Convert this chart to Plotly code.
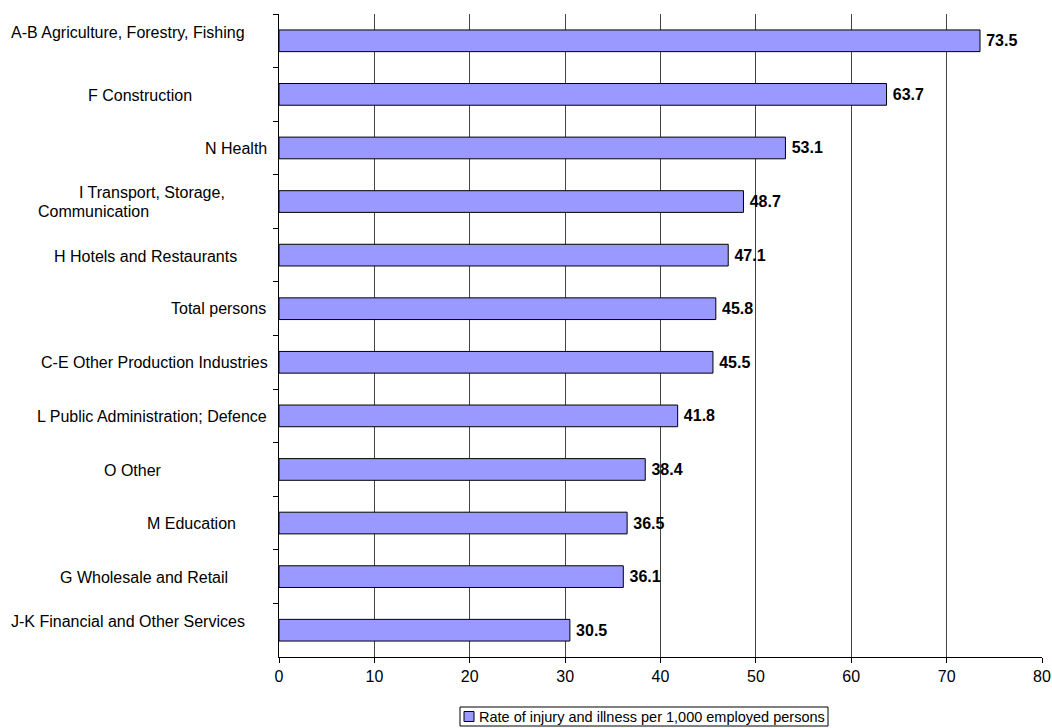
import plotly.graph_objects as go

# Industry sectors, top to bottom
categories = [
    "A-B Agriculture, Forestry, Fishing",
    "F Construction",
    "N Health",
    "I Transport, Storage, Communication",
    "H Hotels and Restaurants",
    "Total persons",
    "C-E Other Production Industries",
    "L Public Administration; Defence",
    "O Other",
    "M Education",
    "G Wholesale and Retail",
    "J-K Financial and Other Services",
]
rates = [73.5, 63.7, 53.1, 48.7, 47.1, 45.8, 45.5, 41.8, 38.4, 36.5, 36.1, 30.5]
x_ticks = [0, 10, 20, 30, 40, 50, 60, 70, 80]
series_name = "Rate of injury and illness per 1,000 employed persons"

# Category label layout: lines of text, horizontal centre (px), vertical shift (px)
label_lines = [
    [("A-B Agriculture, Forestry, Fishing", 128, 8)],
    [("F Construction", 140, -1)],
    [("N Health", 235.5, -1)],
    [("I Transport, Storage,", 152, 9), ("Communication", 93, -10)],
    [("H Hotels and Restaurants", 145, -1)],
    [("Total persons", 218.5, 0)],
    [("C-E Other Production Industries", 154, 0)],
    [("L Public Administration; Defence", 152, -1)],
    [("O Other", 133, -1)],
    [("M Education", 191.5, 0)],
    [("G Wholesale and Retail", 143.5, -1)],
    [("J-K Financial and Other Services", 128, 9)],
]

W, H = 1052, 728
ML, MR, MT, MB = 279, 10, 14, 71
plot_w = W - ML - MR
plot_h = H - MT - MB
FONT = "Liberation Sans, Arial, sans-serif"
BAR_COLOR = "#9999FF"


def px_x(px):
    return (px - ML) / plot_w


def px_y(py):
    return (H - MB - py) / plot_h


fig = go.Figure()
fig.add_trace(go.Bar(
    x=rates,
    y=categories,
    orientation="h",
    name=series_name,
    marker=dict(color=BAR_COLOR, line=dict(color="#000000", width=1)),
    texttemplate="\u2009<b>%{x:.1f}</b>",
    textposition="outside",
    textfont=dict(family=FONT, size=16, color="#000000"),
    cliponaxis=False,
    showlegend=False,
))

annotations = []
for cat, lines in zip(categories, label_lines):
    for text, cx, shift in lines:
        annotations.append(dict(
            x=px_x(cx), xref="paper",
            y=cat, yref="y",
            text=text, showarrow=False,
            xanchor="center", yanchor="middle",
            yshift=shift,
            font=dict(family=FONT, size=16, color="#000000"),
        ))

# Legend box below the axis
leg_l, leg_r, leg_t, leg_b = 460, 828, 707, 726
shapes = [
    dict(type="rect", xref="paper", yref="paper",
         x0=px_x(leg_l), x1=px_x(leg_r), y0=px_y(leg_b), y1=px_y(leg_t),
         line=dict(color="#000000", width=1), fillcolor="white"),
    dict(type="rect", xref="paper", yref="paper",
         x0=px_x(464), x1=px_x(474), y0=px_y(721.5), y1=px_y(711.5),
         line=dict(color="#000000", width=1), fillcolor=BAR_COLOR),
]
annotations.append(dict(
    x=px_x(477), xref="paper", y=px_y(716.5), yref="paper",
    text=series_name, showarrow=False,
    xanchor="left", yanchor="middle",
    font=dict(family=FONT, size=14.5, color="#000000"),
))

fig.update_layout(
    width=W, height=H,
    margin=dict(l=ML, r=MR, t=MT, b=MB, autoexpand=False),
    paper_bgcolor="white",
    plot_bgcolor="white",
    font=dict(family=FONT, size=16, color="#000000"),
    bargap=0.595,
    showlegend=False,
    annotations=annotations,
    shapes=shapes,
    xaxis=dict(
        range=[0, 80],
        tickvals=x_ticks,
        ticks="outside", ticklen=5, tickcolor="#000000",
        showline=True, linecolor="#000000", linewidth=1,
        showgrid=True, gridcolor="#444444", gridwidth=1,
        zeroline=False,
        automargin=False,
        tickfont=dict(family=FONT, size=16, color="#000000"),
        fixedrange=True,
    ),
    yaxis=dict(
        autorange="reversed",
        showticklabels=False,
        ticks="outside", ticklen=5, tickcolor="#000000",
        tickson="boundaries",
        showline=True, linecolor="#000000", linewidth=1,
        showgrid=False,
        automargin=False,
        fixedrange=True,
    ),
)

fig.write_html("out.html")
